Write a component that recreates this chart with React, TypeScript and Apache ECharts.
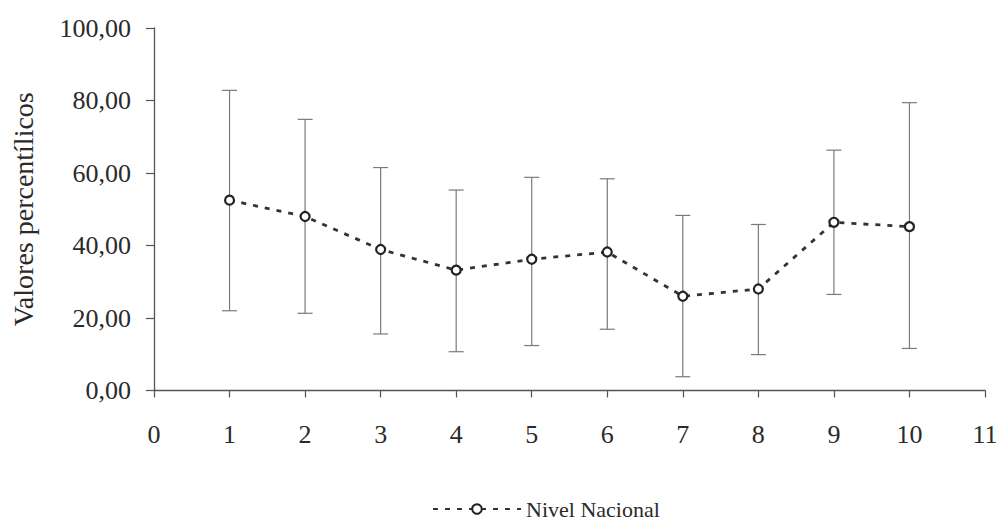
import React, { useEffect, useRef } from "react";
import * as echarts from "echarts";

const groups = [1, 2, 3, 4, 5, 6, 7, 8, 9, 10];
const means = [52.5, 48.0, 38.9, 33.2, 36.2, 38.2, 26.0, 28.0, 46.4, 45.2];
const upper = [82.8, 74.8, 61.5, 55.3, 58.8, 58.4, 48.3, 45.8, 66.3, 79.4];
const lower = [22.0, 21.3, 15.6, 10.7, 12.4, 16.9, 3.8, 9.9, 26.5, 11.6];
const seriesName = "Nivel Nacional";
const yAxisName = "Valores percentílicos";

const FONT = "'Liberation Serif', 'Times New Roman', serif";

export default function App() {
  const ref = useRef<HTMLDivElement>(null);
  useEffect(() => {
    const chart = echarts.init(ref.current!, null, { renderer: "svg" });
    const errData = groups.map((g, i) => [g, lower[i], upper[i]]);
    chart.setOption({
      animation: false,
      backgroundColor: "#ffffff",
      grid: { left: 154, right: 12, top: 28, bottom: 133.5, containLabel: false, outerBoundsMode: "none" },
      xAxis: {
        type: "value",
        min: 0,
        max: 11,
        interval: 1,
        splitLine: { show: false },
        axisLine: { lineStyle: { color: "#555", width: 1.3 } },
        axisTick: { show: true, inside: false, length: 7, lineStyle: { color: "#555", width: 1.2 } },
        axisLabel: {
          margin: 31,
          color: "#2a2a2a",
          fontFamily: FONT,
          fontSize: 26,
        },
      },
      yAxis: {
        type: "value",
        min: 0,
        max: 100,
        interval: 20,
        splitLine: { show: false },
        axisLine: { show: true, lineStyle: { color: "#555", width: 1.3 } },
        axisTick: { show: true, inside: false, length: 8, lineStyle: { color: "#555", width: 1.2 } },
        axisLabel: {
          margin: 23,
          color: "#2a2a2a",
          fontFamily: FONT,
          fontSize: 26,
          formatter: (v: number) => v.toFixed(2).replace(".", ","),
        },
        name: yAxisName,
        nameLocation: "middle",
        nameRotate: 90,
        nameGap: 117,
        nameTextStyle: { color: "#2a2a2a", fontFamily: FONT, fontSize: 28 },
      },
      legend: {
        show: true,
        top: 498,
        left: 432,
        itemWidth: 88,
        itemHeight: 12,
        itemGap: 6,
        padding: 0,
        textStyle: { color: "#2a2a2a", fontFamily: FONT, fontSize: 22 },
        data: [seriesName],
      },
      series: [
        {
          type: "custom",
          name: "err",
          z: 1,
          silent: true,
          data: errData,
          renderItem: (params: any, api: any) => {
            const x = api.value(0);
            const lo = api.coord([x, api.value(1)]);
            const hi = api.coord([x, api.value(2)]);
            const hw = 7.5;
            const style = { stroke: "#7a7a7a", lineWidth: 1.2 };
            return {
              type: "group",
              children: [
                { type: "line", shape: { x1: hi[0], y1: hi[1], x2: lo[0], y2: lo[1] }, style },
                { type: "line", shape: { x1: hi[0] - hw, y1: hi[1], x2: hi[0] + hw, y2: hi[1] }, style },
                { type: "line", shape: { x1: lo[0] - hw, y1: lo[1], x2: lo[0] + hw, y2: lo[1] }, style },
              ],
            };
          },
        },
        {
          type: "line",
          name: seriesName,
          z: 3,
          data: groups.map((g, i) => [g, means[i]]),
          symbol: "circle",
          symbolSize: 9,
          showSymbol: true,
          lineStyle: { color: "#333", width: 2.8, type: [5, 7] },
          itemStyle: { color: "#ffffff", borderColor: "#222", borderWidth: 2.2 },
        },
      ],
    });
    return () => chart.dispose();
  }, []);
  return <div ref={ref} style={{ width: 997, height: 524, position: "absolute", left: 0, top: 0 }} />;
}
